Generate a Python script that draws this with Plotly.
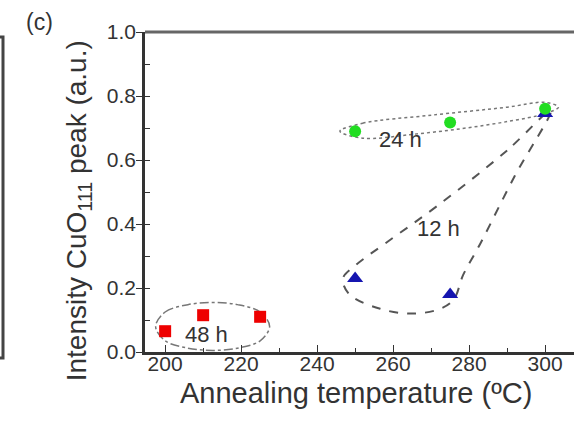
import plotly.graph_objects as go

# ---- data ----
temp_48h = [200, 210, 225]
int_48h = [0.065, 0.115, 0.11]
temp_12h = [250, 275, 300]
int_12h = [0.23, 0.18, 0.745]
temp_24h = [250, 275, 300]
int_24h = [0.69, 0.717, 0.76]

# guide loops (hand-drawn outlines around each series)
loop24_x = [246, 252, 270, 290, 300, 303.5, 300, 290, 278, 265, 252, 246]
loop24_y = [0.69, 0.715, 0.74, 0.765, 0.78, 0.765, 0.745, 0.72, 0.698, 0.68, 0.668, 0.69]
loop12_x = [301.5, 290, 272, 258, 250, 246.8, 248.5, 256.6, 265, 272.4, 276, 278.4, 283, 292, 301.5]
loop12_y = [0.755, 0.63, 0.46, 0.34, 0.27, 0.23, 0.18, 0.135, 0.12, 0.135, 0.165, 0.24, 0.34, 0.55, 0.755]
loop48_x = [197.5, 200, 206, 212.5, 219, 225, 227.5, 225, 219, 212.5, 206, 200, 197.5]
loop48_y = [0.08, 0.125, 0.148, 0.155, 0.148, 0.125, 0.08, 0.035, 0.012, 0.005, 0.012, 0.035, 0.08]

labels = ["48 h", "12 h", "24 h"]
label_x = [211, 272, 262]
label_y = [0.055, 0.385, 0.665]

x_ticks = [200, 220, 240, 260, 280, 300]
y_ticks = [0.0, 0.2, 0.4, 0.6, 0.8, 1.0]

FONT = "Liberation Sans, Arial, sans-serif"
TXT = "#333333"

fig = go.Figure()

fig.add_trace(go.Scatter(x=loop24_x, y=loop24_y, mode="lines",
                         line=dict(color="#777777", width=1.5, dash="dot", shape="spline"),
                         hoverinfo="skip", showlegend=False))
fig.add_trace(go.Scatter(x=loop12_x, y=loop12_y, mode="lines",
                         line=dict(color="#555555", width=2, dash="dash", shape="spline"),
                         hoverinfo="skip", showlegend=False))
fig.add_trace(go.Scatter(x=loop48_x, y=loop48_y, mode="lines",
                         line=dict(color="#777777", width=1.5, dash="dashdot", shape="spline"),
                         hoverinfo="skip", showlegend=False))

fig.add_trace(go.Scatter(x=temp_48h, y=int_48h, mode="markers",
                         marker=dict(symbol="square", size=12, color="#ee0000"), showlegend=False))
fig.add_trace(go.Scatter(x=temp_12h, y=int_12h, mode="markers",
                         marker=dict(symbol="triangle-up", size=14, color="#1515b0"), showlegend=False))
fig.add_trace(go.Scatter(x=temp_24h, y=int_24h, mode="markers",
                         marker=dict(symbol="circle", size=12, color="#22dd22"), showlegend=False))

for t, lx, ly in zip(labels, label_x, label_y):
    fig.add_annotation(x=lx, y=ly, text=t, showarrow=False,
                       xanchor="center", yanchor="middle",
                       font=dict(family=FONT, size=22, color=TXT))

# axis titles and panel label
fig.add_annotation(xref="paper", yref="paper", x=0.492, y=-0.128,
                   xanchor="center", yanchor="middle",
                   text="Annealing temperature (ºC)", showarrow=False,
                   font=dict(family=FONT, size=29, color=TXT))
fig.add_annotation(xref="paper", yref="paper", x=-0.156, y=0.44, textangle=-90,
                   xanchor="center", yanchor="middle",
                   text="Intensity CuO<sub>111</sub> peak (a.u.)", showarrow=False,
                   font=dict(family=FONT, size=28, color=TXT))
fig.add_annotation(xref="paper", yref="paper", x=-0.247, y=1.031,
                   xanchor="center", yanchor="middle",
                   text="(c)", showarrow=False,
                   font=dict(family=FONT, size=23, color=TXT))

# top frame line and neighbour-panel frame remnant
fig.add_shape(type="line", xref="paper", yref="paper", x0=0, x1=1, y0=1, y1=1,
              line=dict(color="#666666", width=3))
fig.add_shape(type="path", xref="paper", yref="paper",
              path="M -0.345 0.984 L -0.331 0.984 L -0.331 -0.019 L -0.345 -0.019",
              line=dict(color="#444444", width=3))

fig.update_xaxes(range=[194.7, 307.6], tickvals=x_ticks, ticks="inside", ticklen=7,
                 tickwidth=1, tickcolor="#333333", ticklabelstandoff=-9,
                 showline=True, linecolor="#333333", linewidth=2.5,
                 showgrid=False, zeroline=False,
                 tickfont=dict(family=FONT, size=21, color=TXT),
                 minor=dict(dtick=10, tick0=200, ticks="inside", ticklen=4, tickcolor="#333333"))
fig.update_yaxes(range=[0, 1.0], tickvals=y_ticks, ticktext=[f"{v:.1f}" for v in y_ticks],
                 ticks="outside", ticklen=6, tickwidth=1, tickcolor="#333333",
                 ticklabelstandoff=-4,
                 showline=True, linecolor="#333333", linewidth=2.5,
                 showgrid=False, zeroline=False,
                 tickfont=dict(family=FONT, size=21, color=TXT),
                 minor=dict(dtick=0.1, tick0=0, ticks="inside", ticklen=5, tickcolor="#333333"))

fig.update_layout(width=574, height=425, margin=dict(l=145, r=0, t=32, b=73),
                  paper_bgcolor="white", plot_bgcolor="white")

fig.write_html("out.html")
